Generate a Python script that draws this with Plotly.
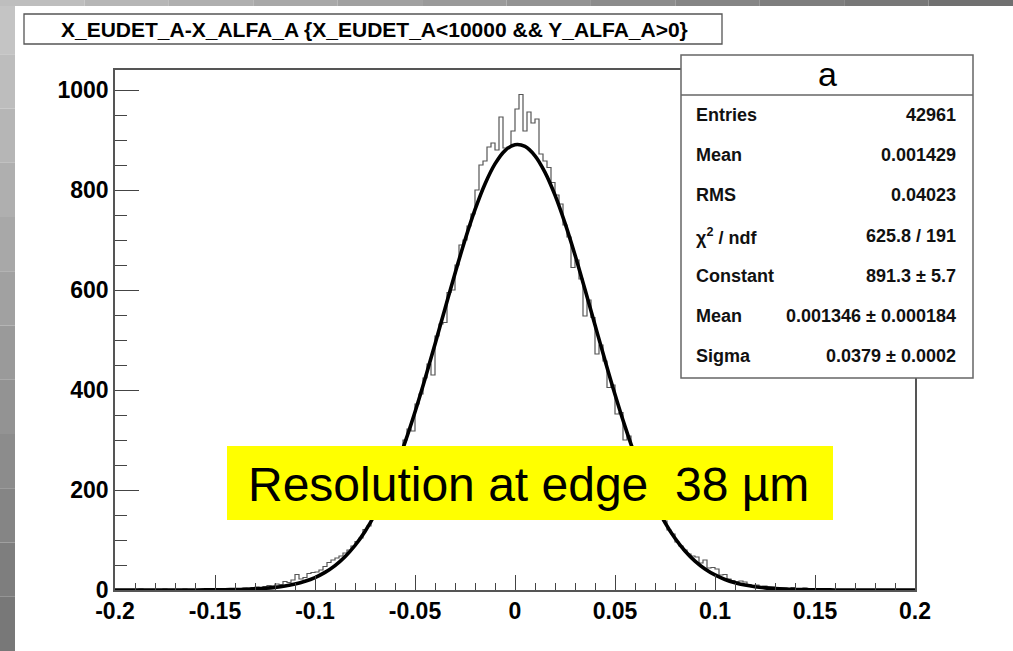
import plotly.graph_objects as go

# ---------------- data ----------------
bin_low = -0.2
bin_width = 0.002
counts = [
    0, 1, 0, 0, 1, 0, 2, 0, 1, 0,
    1, 0, 2, 1, 0, 1, 0, 2, 1, 1,
    0, 2, 1, 3, 1, 2, 1, 3, 2, 2,
    3, 2, 4, 3, 5, 6, 4, 7, 9, 8,
    12, 11, 17, 15, 20, 31, 22, 25, 33, 35,
    36, 40, 47, 55, 60, 64, 68, 74, 80, 88,
    97, 104, 121, 128, 148, 156, 145, 188, 208, 226,
    255, 270, 300, 322, 318, 372, 392, 424, 452, 430,
    508, 532, 535, 595, 600, 650, 690, 700, 728, 752,
    800, 850, 858, 886, 894, 880, 946, 884, 886, 918,
    962, 991, 918, 956, 934, 942, 872, 858, 845, 815,
    790, 772, 730, 706, 645, 660, 622, 548, 580, 545,
    472, 490, 458, 405, 410, 352, 355, 300, 308, 282,
    255, 240, 214, 200, 178, 166, 146, 138, 120, 112,
    96, 88, 80, 72, 68, 66, 54, 60, 44, 45,
    42, 30, 31, 22, 19, 17, 18, 16, 11, 9,
    10, 7, 8, 6, 6, 5, 4, 4, 3, 5,
    2, 3, 4, 2, 1, 3, 2, 1, 2, 0,
    1, 1, 0, 1, 0, 0, 1, 0, 0, 1,
    0, 0, 0, 1, 0, 0, 0, 0, 1, 0,
]

fit_x = [round(-0.2 + 0.005 * i, 3) for i in range(81)]
fit_y = [
    0, 0, 0, 0, 0, 0.01, 0.03, 0.05, 0.10, 0.18,
    0.31, 0.52, 0.85, 1.38, 2.2, 3.4, 5.3, 8.0, 11.9, 17.4,
    24.9, 35.2, 48.8, 66.5, 89.0, 117.1, 151.5, 192.6, 240.5, 295.2,
    356.0, 422.0, 491.6, 562.7, 633.2, 700.0, 760.6, 812.1, 852.2, 878.9,
    890.7, 887.2, 868.4, 835.3, 789.7, 733.7, 669.9, 600.9, 530.0, 459.3,
    391.1, 327.3, 269.2, 217.6, 172.9, 134.9, 103.5, 78.0, 57.8, 42.1,
    30.1, 21.1, 14.6, 9.9, 6.6, 4.3, 2.8, 1.78, 1.11, 0.68,
    0.41, 0.24, 0.14, 0.08, 0.04, 0.02, 0.01, 0, 0, 0,
    0,
]

x_tick_vals = [-0.2, -0.15, -0.1, -0.05, 0, 0.05, 0.1, 0.15, 0.2]
x_tick_text = ["-0.2", "-0.15", "-0.1", "-0.05", "0", "0.05", "0.1", "0.15", "0.2"]
y_tick_vals = [0, 200, 400, 600, 800, 1000]
y_tick_text = ["0", "200", "400", "600", "800", "1000"]

title_text = "X_EUDET_A-X_ALFA_A {X_EUDET_A<10000 && Y_ALFA_A>0}"
stats_title = "a"
stats_labels = ["Entries", "Mean", "RMS", "χ<sup>2</sup> / ndf", "Constant", "Mean", "Sigma"]
stats_values = ["42961", "0.001429", "0.04023", "625.8 / 191", "891.3 ± 5.7",
                "0.001346 ± 0.000184", "0.0379 ± 0.0002"]
note_text = "Resolution at edge  38 µm"

# ---------------- layout helpers ----------------
W, H = 1013, 651
L, R, T, B = 115, 915, 70, 590


def px(xp):
    return (xp - L) / (R - L)


def py(yp):
    return (B - yp) / (B - T)


FONT = "Liberation Sans, Arial, sans-serif"

# step outline of the histogram
edges = [bin_low + bin_width * i for i in range(len(counts) + 1)]
hx = [bin_low] + edges + [edges[-1]]
hy = [0] + counts + [counts[-1], 0]

fig = go.Figure()
fig.add_trace(go.Scatter(
    x=hx, y=hy, mode="lines", line=dict(color="#555555", width=1.2, shape="hv"),
    hoverinfo="skip", showlegend=False))
fig.add_trace(go.Scatter(
    x=fit_x, y=fit_y, mode="lines", line=dict(color="black", width=3.6, shape="spline"),
    hoverinfo="skip", showlegend=False))

shapes = []
# grey gradient frame strips (left and top)
nseg = 12
for i in range(nseg):
    g = int(0xc4 - (0xc4 - 0x78) * i / (nseg - 1))
    col = f"rgb({g},{g},{g})"
    shapes.append(dict(type="rect", xref="paper", yref="paper",
                       x0=px(0), x1=px(15), y0=py(H * (i + 1) / nseg), y1=py(H * i / nseg),
                       line=dict(width=0), fillcolor=col, layer="below"))
for i in range(nseg):
    g = int(0xbe - (0xbe - 0x70) * i / (nseg - 1))
    col = f"rgb({g},{g},{g})"
    shapes.append(dict(type="rect", xref="paper", yref="paper",
                       x0=px(W * i / nseg), x1=px(W * (i + 1) / nseg), y0=py(6), y1=py(0),
                       line=dict(width=0), fillcolor=col, layer="below"))

# title box
shapes.append(dict(type="rect", xref="paper", yref="paper",
                   x0=px(24), x1=px(722), y0=py(44), y1=py(14),
                   line=dict(color="#555555", width=1.3), fillcolor="white", layer="above"))
# stats box
shapes.append(dict(type="rect", xref="paper", yref="paper",
                   x0=px(681), x1=px(973), y0=py(378), y1=py(55),
                   line=dict(color="#666666", width=1.5), fillcolor="white", layer="above"))
shapes.append(dict(type="line", xref="paper", yref="paper",
                   x0=px(681), x1=px(973), y0=py(95), y1=py(95),
                   line=dict(color="#666666", width=1.5), layer="above"))
# yellow note box
shapes.append(dict(type="rect", xref="paper", yref="paper",
                   x0=px(227), x1=px(833), y0=py(520), y1=py(446),
                   line=dict(width=0), fillcolor="#ffff00", layer="above"))

annotations = []
annotations.append(dict(xref="paper", yref="paper", x=px(374), y=py(29), text=title_text,
                        showarrow=False, xanchor="center", yanchor="middle",
                        font=dict(family=FONT, size=21, color="black", weight="bold")))
annotations.append(dict(xref="paper", yref="paper", x=px(827), y=py(74), text=stats_title,
                        showarrow=False, xanchor="center", yanchor="middle",
                        font=dict(family=FONT, size=34, color="black")))
row_y = [115, 155, 195, 236, 276, 316, 356]
for lab, val, yy in zip(stats_labels, stats_values, row_y):
    annotations.append(dict(xref="paper", yref="paper", x=px(694), y=py(yy), text=lab,
                            showarrow=False, xanchor="left", yanchor="middle",
                            font=dict(family=FONT, size=18, color="#111111", weight="bold")))
    annotations.append(dict(xref="paper", yref="paper", x=px(958), y=py(yy), text=val,
                            showarrow=False, xanchor="right", yanchor="middle",
                            font=dict(family=FONT, size=18, color="#111111", weight="bold")))
annotations.append(dict(xref="paper", yref="paper", x=px(246), y=py(484), text=note_text,
                        showarrow=False, xanchor="left", yanchor="middle",
                        font=dict(family=FONT, size=48, color="black")))

fig.update_layout(
    width=W, height=H,
    margin=dict(l=L, r=W - R, t=T, b=H - B, pad=0),
    paper_bgcolor="white", plot_bgcolor="white",
    shapes=shapes, annotations=annotations,
    showlegend=False,
)
fig.update_xaxes(
    range=[-0.2, 0.2], tickvals=x_tick_vals, ticktext=x_tick_text,
    ticks="inside", ticklen=15, tickwidth=1.3, tickcolor="#444444",
    showline=True, linecolor="#555555", linewidth=1.5, mirror=True,
    showgrid=False, zeroline=False,
    tickfont=dict(family=FONT, size=23, color="black", weight="bold"),
    minor=dict(dtick=0.01, ticks="inside", ticklen=7, tickwidth=1.2, tickcolor="#444444", showgrid=False),
)
fig.update_yaxes(
    range=[0, 1040], tickvals=y_tick_vals, ticktext=y_tick_text,
    ticks="inside", ticklen=24, tickwidth=1.3, tickcolor="#444444",
    showline=True, linecolor="#555555", linewidth=1.5, mirror=True,
    showgrid=False, zeroline=False,
    tickfont=dict(family=FONT, size=23, color="black", weight="bold"),
    minor=dict(dtick=50, ticks="inside", ticklen=12, tickwidth=1.2, tickcolor="#444444", showgrid=False),
)

fig.write_html("out.html", config={"displayModeBar": False},
               post_script="document.body.style.margin='0';document.body.style.overflow='hidden';")
